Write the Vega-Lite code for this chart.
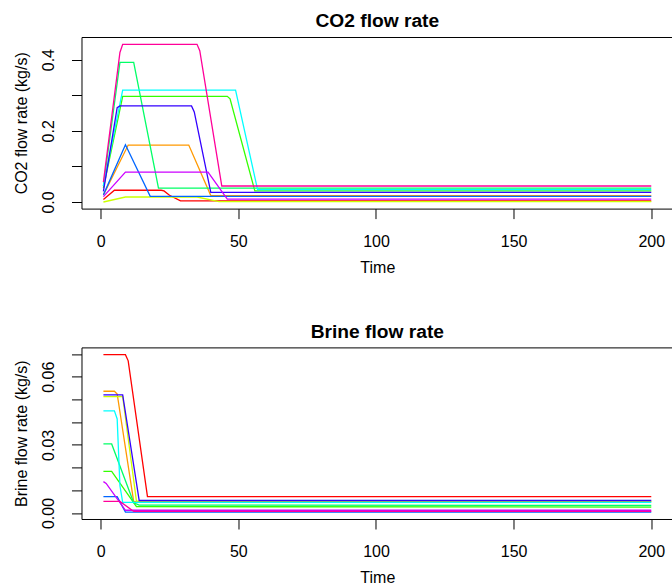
{
  "$schema": "https://vega.github.io/schema/vega-lite/v6.json",
  "autosize": {"type": "pad"},
  "padding": {"left": 12.5, "top": 11, "right": 0, "bottom": 0},
  "background": "white",
  "spacing": 138.4,
  "bounds": "flush",
  "config": {
    "font": "Liberation Sans",
    "view": {"stroke": "black", "strokeWidth": 1},
    "axis": {"domain": false, "grid": false, "ticks": true, "tickColor": "black", "tickSize": 10, "tickWidth": 1, "labelColor": "black", "labelFontSize": 16, "labelFont": "Liberation Sans", "titleFont": "Liberation Sans", "titleFontSize": 16, "titleFontWeight": "normal", "titleColor": "black", "labelBaseline": "alphabetic", "labelFlush": false, "labelOverlap": false},
    "axisX": {"labelPadding": 27.5, "titleY": 63.4, "titleX": 295.85, "titleBaseline": "alphabetic", "titleAlign": "center", "labelAlign": "center"},
    "axisY": {"labelAngle": -90, "labelAlign": "center", "labelPadding": 18.2, "titleX": -54.8, "titleY": 85.8, "titleBaseline": "alphabetic", "titleAlign": "center", "titleAngle": -90},
    "title": {"font": "Liberation Sans", "fontSize": 19.2, "fontWeight": "bold", "baseline": "alphabetic", "offset": 5.5, "anchor": "middle", "color": "black"},
    "line": {"strokeWidth": 1.3}
  },
  "datasets": {
    "co2": [
      {"run": "1", "t": 1, "v": 0.007}, {"run": "1", "t": 5, "v": 0.033}, {"run": "1", "t": 22, "v": 0.033}, {"run": "1", "t": 23, "v": 0.031}, {"run": "1", "t": 25, "v": 0.019}, {"run": "1", "t": 29, "v": 0.003}, {"run": "1", "t": 200, "v": 0.003},
      {"run": "2", "t": 1, "v": 0.02}, {"run": "2", "t": 10, "v": 0.16}, {"run": "2", "t": 32, "v": 0.16}, {"run": "2", "t": 40, "v": 0.018}, {"run": "2", "t": 200, "v": 0.018},
      {"run": "3", "t": 1, "v": 0.0}, {"run": "3", "t": 9, "v": 0.014}, {"run": "3", "t": 35, "v": 0.014}, {"run": "3", "t": 43, "v": 0.001}, {"run": "3", "t": 200, "v": 0.001},
      {"run": "4", "t": 1, "v": 0.04}, {"run": "4", "t": 8, "v": 0.297}, {"run": "4", "t": 46, "v": 0.297}, {"run": "4", "t": 47, "v": 0.29}, {"run": "4", "t": 56, "v": 0.031}, {"run": "4", "t": 200, "v": 0.031},
      {"run": "5", "t": 1, "v": 0.045}, {"run": "5", "t": 7, "v": 0.392}, {"run": "5", "t": 12, "v": 0.392}, {"run": "5", "t": 21, "v": 0.039}, {"run": "5", "t": 200, "v": 0.039},
      {"run": "6", "t": 1, "v": 0.045}, {"run": "6", "t": 8, "v": 0.314}, {"run": "6", "t": 49, "v": 0.314}, {"run": "6", "t": 57, "v": 0.035}, {"run": "6", "t": 200, "v": 0.035},
      {"run": "7", "t": 1, "v": 0.02}, {"run": "7", "t": 9, "v": 0.161}, {"run": "7", "t": 18, "v": 0.016}, {"run": "7", "t": 200, "v": 0.016},
      {"run": "8", "t": 1, "v": 0.03}, {"run": "8", "t": 6, "v": 0.265}, {"run": "8", "t": 7, "v": 0.27}, {"run": "8", "t": 33, "v": 0.27}, {"run": "8", "t": 34, "v": 0.253}, {"run": "8", "t": 40, "v": 0.027}, {"run": "8", "t": 200, "v": 0.027},
      {"run": "9", "t": 1, "v": 0.015}, {"run": "9", "t": 9, "v": 0.084}, {"run": "9", "t": 39, "v": 0.084}, {"run": "9", "t": 46, "v": 0.008}, {"run": "9", "t": 200, "v": 0.008},
      {"run": "10", "t": 1, "v": 0.056}, {"run": "10", "t": 7, "v": 0.42}, {"run": "10", "t": 8, "v": 0.443}, {"run": "10", "t": 35, "v": 0.443}, {"run": "10", "t": 36, "v": 0.425}, {"run": "10", "t": 44, "v": 0.045}, {"run": "10", "t": 200, "v": 0.045}
    ],
    "brine": [
      {"run": "1", "t": 1, "v": 0.0697}, {"run": "1", "t": 9, "v": 0.0697}, {"run": "1", "t": 10, "v": 0.067}, {"run": "1", "t": 17, "v": 0.0072}, {"run": "1", "t": 200, "v": 0.0072},
      {"run": "2", "t": 1, "v": 0.0536}, {"run": "2", "t": 5, "v": 0.0536}, {"run": "2", "t": 6, "v": 0.0524}, {"run": "2", "t": 12, "v": 0.005}, {"run": "2", "t": 200, "v": 0.005},
      {"run": "3", "t": 1, "v": 0.0512}, {"run": "3", "t": 8, "v": 0.0512}, {"run": "3", "t": 13, "v": 0.0052}, {"run": "3", "t": 200, "v": 0.0052},
      {"run": "4", "t": 1, "v": 0.0183}, {"run": "4", "t": 4, "v": 0.0183}, {"run": "4", "t": 13, "v": 0.0028}, {"run": "4", "t": 200, "v": 0.0026},
      {"run": "5", "t": 1, "v": 0.0304}, {"run": "5", "t": 4, "v": 0.0304}, {"run": "5", "t": 12, "v": 0.0045}, {"run": "5", "t": 14, "v": 0.0035}, {"run": "5", "t": 200, "v": 0.0033},
      {"run": "6", "t": 1, "v": 0.045}, {"run": "6", "t": 5, "v": 0.045}, {"run": "6", "t": 6, "v": 0.0414}, {"run": "6", "t": 7, "v": 0.012}, {"run": "6", "t": 8, "v": 0.0047}, {"run": "6", "t": 200, "v": 0.0047},
      {"run": "7", "t": 1, "v": 0.0072}, {"run": "7", "t": 6, "v": 0.0072}, {"run": "7", "t": 9, "v": 0.0004}, {"run": "7", "t": 200, "v": 0.0004},
      {"run": "8", "t": 1, "v": 0.052}, {"run": "8", "t": 8, "v": 0.052}, {"run": "8", "t": 14, "v": 0.0055}, {"run": "8", "t": 200, "v": 0.0055},
      {"run": "9", "t": 1, "v": 0.0138}, {"run": "9", "t": 2, "v": 0.013}, {"run": "9", "t": 9, "v": 0.0012}, {"run": "9", "t": 200, "v": 0.0012},
      {"run": "10", "t": 1, "v": 0.0051}, {"run": "10", "t": 7, "v": 0.0051}, {"run": "10", "t": 12, "v": 0.0007}, {"run": "10", "t": 200, "v": 0.0007}
    ]
  },
  "vconcat": [
    {
      "title": "CO2 flow rate",
      "width": 591.7,
      "height": 171.6,
      "data": {"name": "co2"},
      "mark": {"type": "line", "strokeWidth": 1.3},
      "encoding": {
        "x": {"field": "t", "type": "quantitative", "title": "Time", "scale": {"domain": [-6.96, 207.96], "nice": false, "zero": false}, "axis": {"values": [0, 50, 100, 150, 200]}},
        "y": {"field": "v", "type": "quantitative", "title": "CO2 flow rate (kg/s)", "scale": {"domain": [-0.01854, 0.4635], "nice": false, "zero": false}, "axis": {"values": [0, 0.1, 0.2, 0.3, 0.4], "labelExpr": "round(datum.value*10) % 2 == 0 ? format(datum.value, '.1f') : ''"}},
        "color": {"field": "run", "type": "nominal", "legend": null, "scale": {"domain": ["1","2","3","4","5","6","7","8","9","10"], "range": ["#FF0000","#FF9900","#CCFF00","#33FF00","#00FF66","#00FFFF","#0066FF","#3300FF","#CC00FF","#FF0099"]}}
      }
    },
    {
      "title": "Brine flow rate",
      "width": 591.7,
      "height": 171.6,
      "data": {"name": "brine"},
      "mark": {"type": "line", "strokeWidth": 1.3},
      "encoding": {
        "x": {"field": "t", "type": "quantitative", "title": "Time", "scale": {"domain": [-6.96, 207.96], "nice": false, "zero": false}, "axis": {"values": [0, 50, 100, 150, 200]}},
        "y": {"field": "v", "type": "quantitative", "title": "Brine flow rate (kg/s)", "scale": {"domain": [-0.00264, 0.07291], "nice": false, "zero": false}, "axis": {"values": [0, 0.01, 0.02, 0.03, 0.04, 0.05, 0.06, 0.07], "labelExpr": "round(datum.value*100) % 3 == 0 ? format(datum.value, '.2f') : ''"}},
        "color": {"field": "run", "type": "nominal", "legend": null, "scale": {"domain": ["1","2","3","4","5","6","7","8","9","10"], "range": ["#FF0000","#FF9900","#CCFF00","#33FF00","#00FF66","#00FFFF","#0066FF","#3300FF","#CC00FF","#FF0099"]}}
      }
    }
  ]
}
